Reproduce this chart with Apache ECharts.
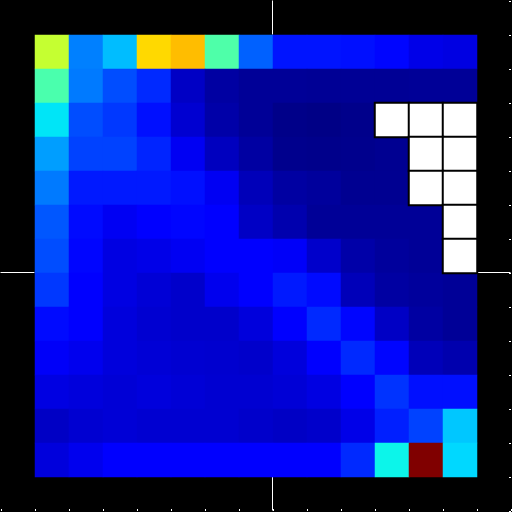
<!DOCTYPE html>
<html>
<head>
<meta charset="utf-8">
<script src="https://cdn.jsdelivr.net/npm/echarts@6/dist/echarts.min.js"></script>
<style>html,body{margin:0;padding:0;background:#000;}#c{width:512px;height:512px;}</style>
</head>
<body>
<div id="c"></div>
<script>
// 15 axis slots; the 13x13 matrix occupies slots 1..13
const axisSlots = ['0','1','2','3','4','5','6','7','8','9','10','11','12','13','14'];
const rowIds = [1,2,3,4,5,6,7,8,9,10,11,12,13];
const colIds = [1,2,3,4,5,6,7,8,9,10,11,12,13];
// normalized values (null = masked / no data)
const row0  = [0.59, 0.25, 0.31, 0.68, 0.71, 0.445, 0.22, 0.145, 0.145, 0.14, 0.13, 0.09, 0.085];
const row1  = [0.44, 0.245, 0.2, 0.165, 0.06, 0.03, 0.02, 0.02, 0.018, 0.018, 0.018, 0.02, 0.02];
const row2  = [0.35, 0.2, 0.18, 0.14, 0.07, 0.035, 0.02, 0.008, 0.006, 0.01, null, null, null];
const row3  = [0.28, 0.19, 0.19, 0.16, 0.1, 0.055, 0.03, 0.012, 0.01, 0.012, 0.015, null, null];
const row4  = [0.245, 0.15, 0.15, 0.15, 0.14, 0.1, 0.05, 0.03, 0.025, 0.015, 0.015, null, null];
const row5  = [0.21, 0.135, 0.1, 0.125, 0.13, 0.12, 0.06, 0.04, 0.02, 0.02, 0.02, 0.02, null];
const row6  = [0.2, 0.13, 0.085, 0.09, 0.1, 0.12, 0.12, 0.105, 0.065, 0.035, 0.025, 0.02, null];
const row7  = [0.18, 0.125, 0.085, 0.075, 0.065, 0.095, 0.12, 0.15, 0.135, 0.05, 0.03, 0.025, 0.02];
const row8  = [0.135, 0.12, 0.08, 0.07, 0.065, 0.065, 0.08, 0.115, 0.165, 0.13, 0.06, 0.03, 0.02];
const row9  = [0.105, 0.095, 0.08, 0.075, 0.07, 0.068, 0.065, 0.08, 0.12, 0.165, 0.13, 0.05, 0.04];
const row10 = [0.085, 0.08, 0.075, 0.08, 0.075, 0.07, 0.07, 0.075, 0.085, 0.115, 0.175, 0.14, 0.14];
const row11 = [0.06, 0.07, 0.075, 0.07, 0.07, 0.07, 0.065, 0.06, 0.065, 0.09, 0.155, 0.19, 0.32];
const row12 = [0.08, 0.095, 0.115, 0.115, 0.115, 0.115, 0.115, 0.115, 0.115, 0.165, 0.365, 1.0, 0.337];
const matrix = [row0,row1,row2,row3,row4,row5,row6,row7,row8,row9,row10,row11,row12];

// crosshair reference lines (value coordinates, outside the matrix only)
const vLineTop    = [[0, 7], [0, 8]];
const vLineBottom = [[0, -7], [0, -6]];
const hLineLeft   = [[-8, 0], [-7, 0]];
const hLineRight  = [[6, 0], [7, 0]];

function interp(v, pts){
  for(let i=1;i<pts.length;i++){
    if(v<=pts[i][0]){
      const a=pts[i-1], b=pts[i];
      return a[1]+(b[1]-a[1])*(v-a[0])/(b[0]-a[0]);
    }
  }
  return pts[pts.length-1][1];
}
function jet(v){
  const r=interp(v,[[0,0],[0.35,0],[0.66,1],[0.89,1],[1,0.5]]);
  const g=interp(v,[[0,0],[0.125,0],[0.375,1],[0.64,1],[0.91,0],[1,0]]);
  const b=interp(v,[[0,0.5],[0.11,1],[0.34,1],[0.65,0],[1,0]]);
  const h=x=>Math.round(x*255).toString(16).padStart(2,'0');
  return '#'+h(r)+h(g)+h(b);
}
const jetColors=[];
for(let i=0;i<=200;i++) jetColors.push(jet(i/200));

const cellData=[], maskData=[];
matrix.forEach((row,r)=>row.forEach((v,c)=>{
  if(v===null) maskData.push([colIds[c], rowIds[r], 1]);
  else cellData.push([colIds[c], rowIds[r], v]);
}));

const lineSeries=[vLineTop,vLineBottom,hLineLeft,hLineRight].map(d=>({
  type:'line',xAxisIndex:1,yAxisIndex:1,data:d,showSymbol:false,silent:true,z:1,
  lineStyle:{color:'#fff',width:1}
}));

const chart=echarts.init(document.getElementById('c'));
chart.setOption({
  backgroundColor:'#000',
  animation:false,
  grid:[
    {left:1,top:1,right:1,bottom:1},
    {left:0.5,top:0.5,right:1.5,bottom:1.5}
  ],
  xAxis:[
    {type:'category',data:axisSlots,gridIndex:0,position:'bottom',
     axisLine:{show:false},axisLabel:{show:false},splitLine:{show:false},
     axisTick:{show:true,inside:true,length:2,lineStyle:{color:'#fff',width:1}}},
    {type:'value',gridIndex:1,min:-8,max:7,show:false}
  ],
  yAxis:[
    {type:'category',data:axisSlots,gridIndex:0,inverse:true,position:'right',
     axisLine:{show:false},axisLabel:{show:false},splitLine:{show:false},
     axisTick:{show:true,inside:true,length:2,lineStyle:{color:'#fff',width:1}}},
    {type:'value',gridIndex:1,min:-7,max:8,show:false}
  ],
  visualMap:{type:'continuous',show:false,min:0,max:1,dimension:2,seriesIndex:0,
    inRange:{color:jetColors}},
  series:[
    {type:'heatmap',xAxisIndex:0,yAxisIndex:0,data:cellData,z:5,
     emphasis:{disabled:true},itemStyle:{borderWidth:0}},
    {type:'heatmap',xAxisIndex:0,yAxisIndex:0,data:maskData,z:6,
     emphasis:{disabled:true},itemStyle:{color:'#fff',borderColor:'#000',borderWidth:2}}
  ].concat(lineSeries)
});
</script>
</body>
</html>
